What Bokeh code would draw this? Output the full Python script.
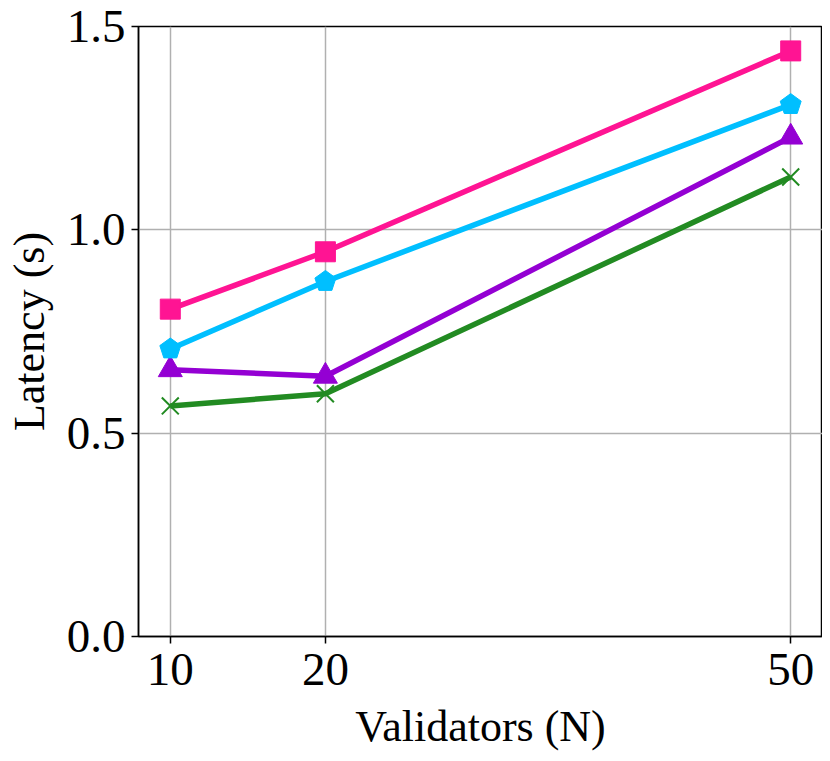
from bokeh.plotting import figure
from bokeh.embed import file_html
from bokeh.resources import INLINE
from bokeh.models import FixedTicker, Range1d, CustomJSTickFormatter

validators = [10, 20, 50]
pink = [0.805, 0.946, 1.44]
cyan = [0.707, 0.873, 1.308]
purple = [0.656, 0.640, 1.228]
green = [0.567, 0.597, 1.130]
x_ticks = [10, 20, 50]
y_ticks = [0.0, 0.5, 1.0, 1.5]

FONT = "Liberation Serif"

p = figure(width=822, height=753, output_backend="svg", toolbar_location=None,
           x_range=Range1d(7.95, 52.05), y_range=Range1d(0, 1.5),
           min_border_left=138, min_border_right=0, min_border_top=26, min_border_bottom=115)
p.outline_line_color = "black"
p.outline_line_width = 1.5
p.background_fill_color = "white"
p.border_fill_color = "white"

for ax in (p.xaxis, p.yaxis):
    ax.major_label_text_font = FONT
    ax.major_label_text_font_size = "47px"
    ax.major_label_text_color = "black"
    ax.axis_label_text_font = FONT
    ax.axis_label_text_font_size = "44px"
    ax.axis_label_text_font_style = "normal"
    ax.axis_label_text_color = "black"
    ax.axis_line_color = "black"
    ax.axis_line_width = 1.5
    ax.major_tick_line_color = "black"
    ax.major_tick_line_width = 1.5
    ax.major_tick_out = 7
    ax.major_tick_in = 0
    ax.minor_tick_line_color = None

p.xaxis.ticker = FixedTicker(ticks=x_ticks)
p.yaxis.ticker = FixedTicker(ticks=y_ticks)
p.yaxis.formatter = CustomJSTickFormatter(code="return tick.toFixed(1);")
p.xaxis.axis_label = "Validators (N)"
p.yaxis.axis_label = "Latency (s)"
p.xaxis.major_label_standoff = 10
p.yaxis.major_label_standoff = 6
p.xaxis.axis_label_standoff = 14
p.yaxis.axis_label_standoff = 10

p.xgrid.grid_line_color = "#b0b0b0"
p.ygrid.grid_line_color = "#b0b0b0"
p.xgrid.grid_line_width = 1.5
p.ygrid.grid_line_width = 1.5

LW = 5.5
p.line(validators, green, line_color="#228B22", line_width=LW)
p.scatter(validators, green, marker="x", size=24, line_color="#228B22", line_width=2)

p.line(validators, purple, line_color="#9400D3", line_width=LW)
p.scatter(validators, purple, marker="triangle", size=24, fill_color="#9400D3", line_color="#9400D3")

p.line(validators, cyan, line_color="#00BFFF", line_width=LW)
try:
    p.ngon(x=validators, y=cyan, radius=11, radius_units="screen", n=5,
           fill_color="#00BFFF", line_color="#00BFFF")
except Exception:
    p.scatter(validators, cyan, marker="hex", size=20, fill_color="#00BFFF", line_color="#00BFFF")

p.line(validators, pink, line_color="#FF1493", line_width=LW)
p.scatter(validators, pink, marker="square", size=20, fill_color="#FF1493", line_color="#FF1493")

open("out.html", "w").write(file_html(p, INLINE))
